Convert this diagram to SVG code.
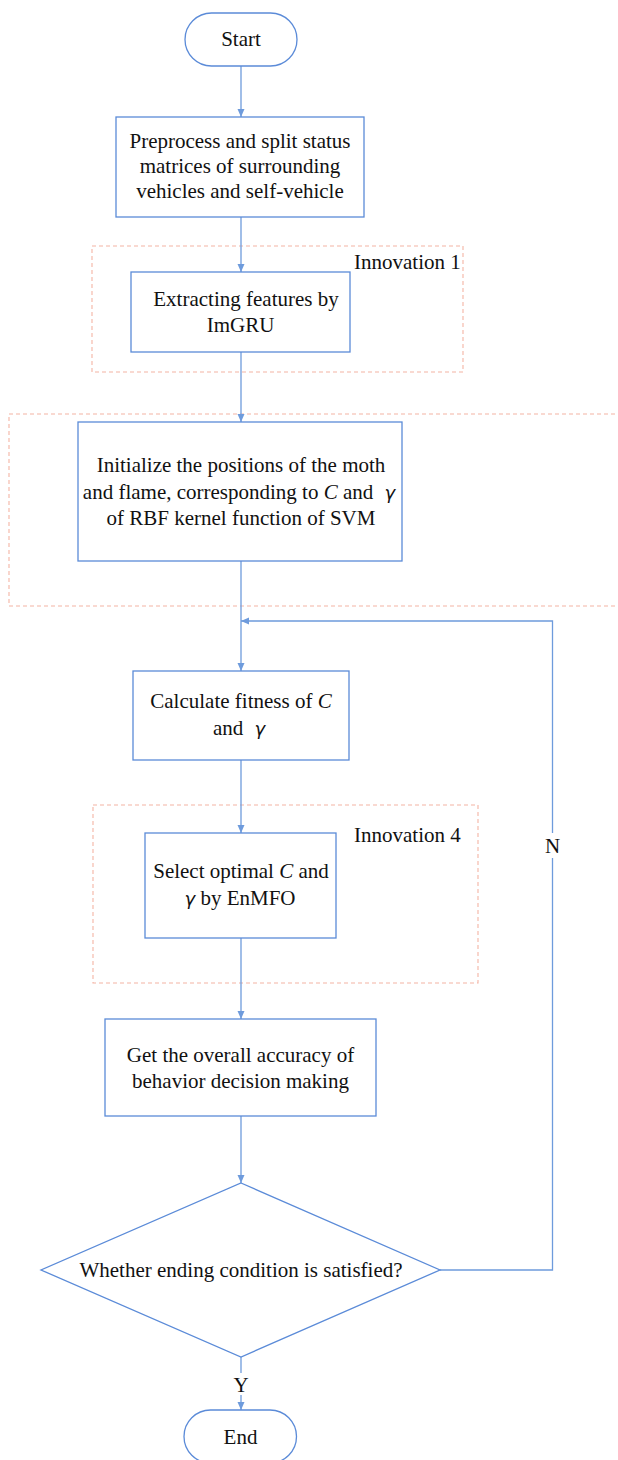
<svg xmlns="http://www.w3.org/2000/svg" width="618" height="1460" viewBox="0 0 618 1460">
<style>
.box{fill:#fff;stroke:#5b8bd8;stroke-width:1.3}
.grp{fill:none;stroke:#f4b4a4;stroke-width:1.1;stroke-dasharray:4 3}
.con{fill:none;stroke:#6e9bdc;stroke-width:1.3}
.t{font-family:"Liberation Serif","Times New Roman",serif;font-size:21px;fill:#111;text-anchor:middle}
.tl{font-family:"Liberation Serif","Times New Roman",serif;font-size:21px;fill:#111}
.i{font-style:italic}
.g{font-family:"DejaVu Sans","Liberation Sans",sans-serif;font-style:italic;font-size:18px}
</style>
<defs>
<marker id="ah" markerUnits="userSpaceOnUse" markerWidth="9" markerHeight="8" refX="8" refY="3.5" orient="auto">
<path d="M0,0 L8,3.5 L0,7 z" fill="#6e9bdc"/>
</marker>
</defs>
<rect width="618" height="1460" fill="#fff"/>

<g id="groups">
<rect class="grp" x="92" y="246" width="371" height="126"/>
<rect class="grp" x="9" y="414" width="620" height="192"/>
<rect class="grp" x="93" y="805" width="385" height="178"/>
</g>

<g id="connectors">
<line class="con" x1="241" y1="66" x2="241" y2="117" marker-end="url(#ah)"/>
<line class="con" x1="241" y1="217" x2="241" y2="272" marker-end="url(#ah)"/>
<line class="con" x1="241" y1="352" x2="241" y2="422" marker-end="url(#ah)"/>
<line class="con" x1="241" y1="561" x2="241" y2="671" marker-end="url(#ah)"/>
<line class="con" x1="241" y1="760" x2="241" y2="833" marker-end="url(#ah)"/>
<line class="con" x1="241" y1="938" x2="241" y2="1019" marker-end="url(#ah)"/>
<line class="con" x1="241" y1="1116" x2="241" y2="1183" marker-end="url(#ah)"/>
<line class="con" x1="241" y1="1357" x2="241" y2="1373"/>
<line class="con" x1="241" y1="1395" x2="241" y2="1410" marker-end="url(#ah)"/>
<path class="con" d="M440,1270 H552.5 V858"/>
<path class="con" d="M552.5,833 V621 H241" marker-end="url(#ah)"/>
<text class="t" x="241" y="1392">Y</text>
<text class="t" x="552.5" y="853">N</text>
</g>

<g id="start">
<rect class="box" x="185" y="13" width="112" height="53" rx="26.5"/>
<text class="t" x="241" y="46">Start</text>
</g>

<g id="preprocess">
<rect class="box" x="116" y="117" width="248" height="100"/>
<text class="t" x="240" y="148">Preprocess and split status</text>
<text class="t" x="240" y="173">matrices of surrounding</text>
<text class="t" x="240" y="198">vehicles and self-vehicle</text>
</g>

<g id="innovation1">
<text class="tl" x="354" y="269">Innovation 1</text>
</g>

<g id="imgru">
<rect class="box" x="131" y="272" width="219" height="80"/>
<text class="t" x="246" y="306">Extracting features by</text>
<text class="t" x="240.5" y="332">ImGRU</text>
</g>

<g id="initialize">
<rect class="box" x="78" y="422" width="324" height="139"/>
<text class="t" x="241" y="471.5">Initialize the positions of the moth</text>
<text class="t" x="239" y="498.5">and flame, corresponding to <tspan class="i">C</tspan> and <tspan class="g" dx="6">γ</tspan></text>
<text class="t" x="241" y="524.5">of RBF kernel function of SVM</text>
</g>

<g id="fitness">
<rect class="box" x="133" y="671" width="216" height="89"/>
<text class="t" x="241" y="708">Calculate fitness of <tspan class="i">C</tspan></text>
<text class="t" x="239" y="734.5">and <tspan class="g" dx="6">γ</tspan></text>
</g>

<g id="innovation4">
<text class="tl" x="354" y="842">Innovation 4</text>
</g>

<g id="select">
<rect class="box" x="145" y="833" width="191" height="105"/>
<text class="t" x="241" y="878">Select optimal <tspan class="i">C</tspan> and</text>
<text class="t" x="240" y="904.5"><tspan class="g">γ</tspan> by EnMFO</text>
</g>

<g id="accuracy">
<rect class="box" x="105" y="1019" width="271" height="97"/>
<text class="t" x="240.5" y="1061.5">Get the overall accuracy of</text>
<text class="t" x="240.5" y="1088">behavior decision making</text>
</g>

<g id="decision">
<polygon class="box" points="241,1183 440,1270 241,1357 41,1270"/>
<text class="t" x="241" y="1277">Whether ending condition is satisfied?</text>
</g>

<g id="end">
<rect class="box" x="184" y="1410" width="112.5" height="53" rx="26.5"/>
<text class="t" x="240.5" y="1443.5">End</text>
</g>
</svg>
